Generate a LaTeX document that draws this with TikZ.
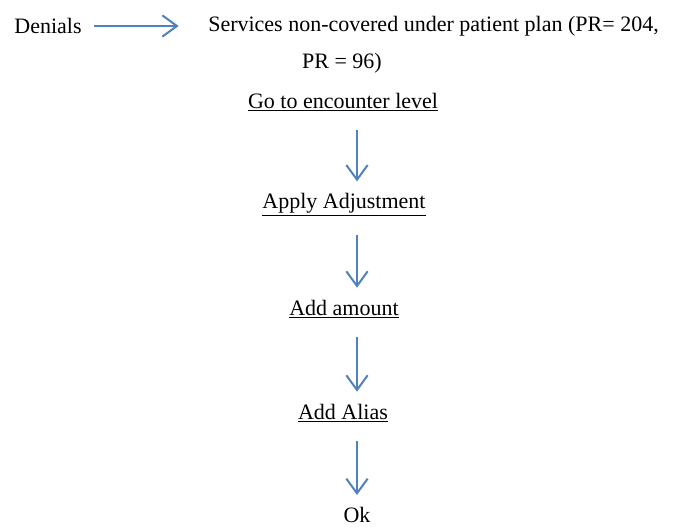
\documentclass[tikz,border=0pt]{standalone}
\usepackage{fontspec}
\setmainfont{Liberation Serif}
\usetikzlibrary{arrows.meta,positioning,calc}
\definecolor{flowblue}{RGB}{79,129,189}

\begin{document}
\begin{tikzpicture}[
    x=0.75pt, y=-0.75pt,
    txt/.style={inner sep=0pt, font=\fontsize{16.5}{20}\selectfont},
    flow/.style={draw=flowblue, line width=1.5pt, -{Straight Barb[length=11pt,width=16pt,line width=1.5pt]}}
]
\useasboundingbox (0,0) rectangle (689,526);

% Denials and the reason
\node[txt] (denials) at (48,26) {Denials};
\node[txt, anchor=west] (services) at (208,26) {Services non-covered under patient plan (PR= 204,};
\node[txt] (pr) at (342,63) {PR = 96)};

% Steps
\node[txt] (go) at (343,102) {\underline{Go to encounter level}};
\node[txt] (apply) at (344,205) {\underline{Apply Adjustment}};
\node[txt] (amount) at (344,309) {\underline{Add amount}};
\node[txt] (alias) at (343,413) {\underline{Add Alias}};
\node[txt] (ok) at (357,515) {Ok};

% Arrows
\draw[flow, shorten <=9pt, shorten >=22pt] (denials.east) -- (services.west);
\draw[flow, shorten <=14pt, shorten >=9pt] (ok.north |- go.south) -- (ok.north |- apply.north);
\draw[flow, shorten <=14pt, shorten >=9pt] (ok.north |- apply.south) -- (ok.north |- amount.north);
\draw[flow, shorten <=14pt, shorten >=9pt] (ok.north |- amount.south) -- (ok.north |- alias.north);
\draw[flow, shorten <=14pt, shorten >=9pt] (ok.north |- alias.south) -- (ok.north);

\end{tikzpicture}
\end{document}
